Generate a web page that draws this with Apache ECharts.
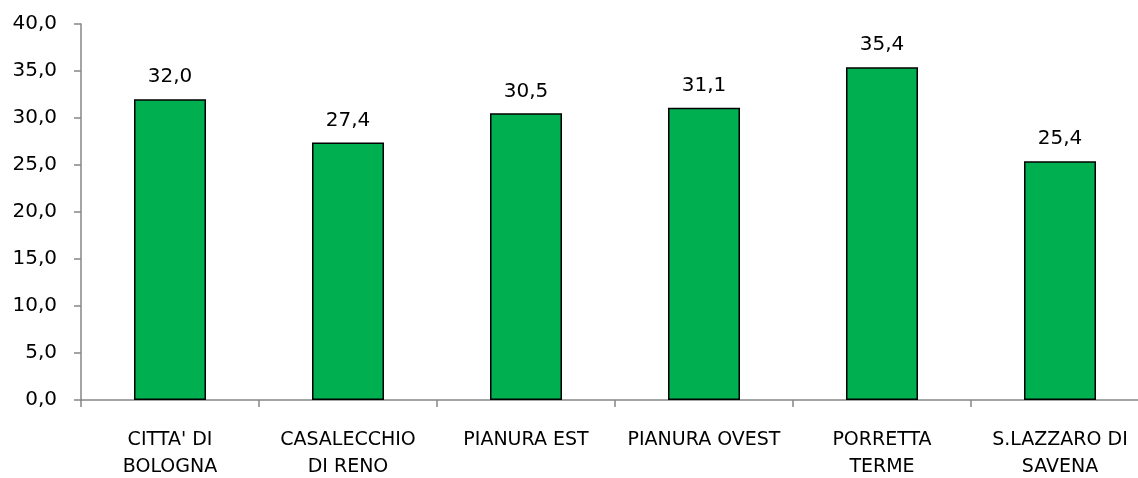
<!DOCTYPE html>
<html>
<head>
<meta charset="utf-8">
<script src="https://cdn.jsdelivr.net/npm/echarts@6/dist/echarts.min.js"></script>
<style>
  html, body { margin: 0; padding: 0; background: #fff; }
  #chart { width: 1138px; height: 478px; }
</style>
</head>
<body>
<div id="chart"></div>
<script>
var categories = ["CITTA' DI\nBOLOGNA", 'CASALECCHIO\nDI RENO', 'PIANURA EST', 'PIANURA OVEST', 'PORRETTA\nTERME', 'S.LAZZARO DI\nSAVENA'];
var values = [32.0, 27.4, 30.5, 31.1, 35.4, 25.4];

function fmt(v) {
  return v.toFixed(1).replace('.', ',');
}

var myChart = echarts.init(document.getElementById('chart'));

myChart.setOption({
  animation: false,
  textStyle: { fontFamily: 'DejaVu Sans' },
  grid: {
    left: 81,
    width: 1068,
    top: 24,
    height: 376,
    outerBoundsMode: 'none',
    containLabel: false
  },
  xAxis: {
    type: 'category',
    data: categories,
    axisLine: { lineStyle: { color: '#868686', width: 1.5 } },
    axisTick: { show: true, length: 7, lineStyle: { color: '#868686', width: 1.5 } },
    axisLabel: {
      color: '#000',
      fontSize: 19,
      lineHeight: 27,
      margin: 27,
      interval: 0
    }
  },
  yAxis: {
    type: 'value',
    min: 0,
    max: 40,
    interval: 5,
    axisLine: { show: true, lineStyle: { color: '#868686', width: 1.5 } },
    axisTick: { show: true, length: 7, lineStyle: { color: '#868686', width: 1.5 } },
    splitLine: { show: false },
    axisLabel: {
      color: '#000',
      fontSize: 20,
      margin: 24,
      formatter: function (v) { return fmt(v); }
    }
  },
  series: [{
    type: 'bar',
    data: values,
    barWidth: 72,
    itemStyle: {
      color: '#00B050',
      borderColor: '#000',
      borderWidth: 1.5
    },
    label: {
      show: true,
      position: 'top',
      distance: 12,
      color: '#000',
      fontSize: 20,
      formatter: function (p) { return fmt(p.value); }
    }
  }]
});
</script>
</body>
</html>
